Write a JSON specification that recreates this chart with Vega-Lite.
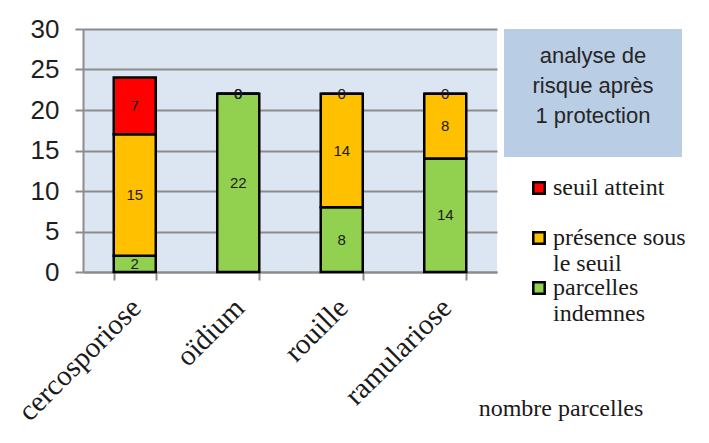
{
  "$schema": "https://vega.github.io/schema/vega-lite/v6.json",
  "autosize": {"type": "pad"},
  "padding": {"left": 13, "top": 16, "right": 4, "bottom": 0},
  "background": "white",
  "bounds": "flush",
  "spacing": 7,
  "config": {
    "view": {"stroke": null},
    "legend": {"labelFont": "Liberation Serif", "labelFontSize": 24},
    "style": {"guide-label": {"font": "Liberation Serif"}},
    "axisY": {"labelFont": "Liberation Sans"},
    "text": {"font": "Liberation Sans"}
  },
  "hconcat": [
    {
      "width": 414,
      "height": 243,
      "view": {"fill": "#dce6f2", "stroke": null},
      "data": {
        "values": [
          {"maladie": "cercosporiose", "categorie": "parcelles indemnes", "rang": 1, "n": 2},
          {"maladie": "cercosporiose", "categorie": "présence sous le seuil", "rang": 2, "n": 15},
          {"maladie": "cercosporiose", "categorie": "seuil atteint", "rang": 3, "n": 7},
          {"maladie": "oïdium", "categorie": "parcelles indemnes", "rang": 1, "n": 22},
          {"maladie": "oïdium", "categorie": "présence sous le seuil", "rang": 2, "n": 0},
          {"maladie": "oïdium", "categorie": "seuil atteint", "rang": 3, "n": 0},
          {"maladie": "rouille", "categorie": "parcelles indemnes", "rang": 1, "n": 8},
          {"maladie": "rouille", "categorie": "présence sous le seuil", "rang": 2, "n": 14},
          {"maladie": "rouille", "categorie": "seuil atteint", "rang": 3, "n": 0},
          {"maladie": "ramulariose", "categorie": "parcelles indemnes", "rang": 1, "n": 14},
          {"maladie": "ramulariose", "categorie": "présence sous le seuil", "rang": 2, "n": 8},
          {"maladie": "ramulariose", "categorie": "seuil atteint", "rang": 3, "n": 0}
        ]
      },
      "encoding": {
        "x": {
          "field": "maladie",
          "type": "nominal",
          "sort": ["cercosporiose", "oïdium", "rouille", "ramulariose"],
          "scale": {"paddingInner": 0.594, "paddingOuter": 0.297},
          "axis": {
            "title": null,
            "labelAngle": -45,
            "labelFont": "Liberation Serif",
            "labelFontSize": 29,
            "labelColor": "#1a1a1a",
            "labelPadding": 13,
            "labelOffset": -9,
            "domainColor": "#8c8c8c",
            "domainWidth": 2,
            "tickColor": "#8c8c8c",
            "tickWidth": 2,
            "tickSize": 8,
            "tickBand": "extent",
            "grid": false
          }
        }
      },
      "layer": [
        {
          "mark": {"type": "bar", "stroke": "black", "strokeWidth": 2.5},
          "encoding": {
            "y": {
              "field": "n",
              "type": "quantitative",
              "stack": "zero",
              "scale": {"domain": [0, 30], "nice": false},
              "axis": {
                "title": null,
                "values": [0, 5, 10, 15, 20, 25, 30],
                "labelFont": "Liberation Sans",
                "labelFontSize": 26,
                "labelColor": "#1f1f1f",
                "labelPadding": 16,
                "domainColor": "#8c8c8c",
                "domainWidth": 2,
                "tickColor": "#8c8c8c",
                "tickWidth": 2,
                "tickSize": 8,
                "gridColor": "#8c8c8c",
                "gridWidth": 2
              }
            },
            "color": {
              "field": "categorie",
              "type": "nominal",
              "scale": {
                "domain": ["seuil atteint", "présence sous le seuil", "parcelles indemnes"],
                "range": ["#ff0000", "#ffc000", "#92d050"]
              },
              "legend": {
                "orient": "none",
                "legendX": 444,
                "legendY": 147,
                "title": null,
                "symbolType": "square",
                "symbolSize": 130,
                "symbolStrokeColor": "black",
                "symbolStrokeWidth": 2.5,
                "labelFont": "Liberation Serif",
                "labelFontSize": 24,
                "labelColor": "#1a1a1a",
                "labelLimit": 0,
                "labelBaseline": "middle",
                "labelOffset": 2,
                "rowPadding": -3,
                "labelExpr": "datum.label == 'présence sous le seuil' ? ['présence sous', 'le seuil'] : datum.label == 'parcelles indemnes' ? ['parcelles', 'indemnes'] : [datum.label, '']"
              }
            },
            "order": {"field": "rang", "type": "quantitative"}
          }
        },
        {
          "mark": {"type": "text", "fontSize": 15, "color": "#1a1a1a", "baseline": "middle", "font": "Liberation Sans"},
          "encoding": {
            "y": {"field": "n", "type": "quantitative", "stack": "zero", "bandPosition": 0.5},
            "text": {"field": "n", "type": "quantitative"},
            "order": {"field": "rang", "type": "quantitative"}
          }
        }
      ]
    },
    {
      "width": 178,
      "height": 128,
      "view": {"fill": "#b9cde5", "stroke": null},
      "data": {"values": [{"texte": ["analyse de", "risque après", "1 protection"]}]},
      "mark": {"type": "text", "fontSize": 22, "lineHeight": 30, "color": "#262626", "baseline": "middle", "dy": -37, "font": "Liberation Sans"},
      "encoding": {"text": {"field": "texte", "type": "nominal"}},
      "title": {
        "text": "nombre parcelles",
        "orient": "bottom",
        "offset": 240,
        "anchor": "middle",
        "dx": -32,
        "font": "Liberation Serif",
        "fontSize": 24,
        "fontWeight": "normal",
        "color": "#1a1a1a"
      }
    }
  ]
}
